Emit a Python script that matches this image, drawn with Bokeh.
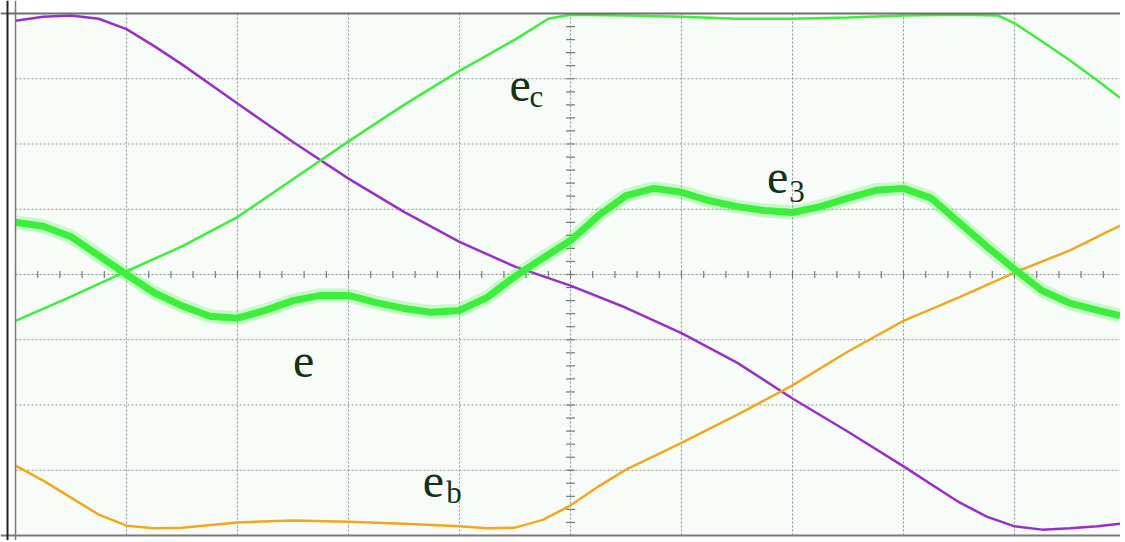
from bokeh.plotting import figure
from bokeh.models import Span, BoxAnnotation
from bokeh.core.properties import value
from bokeh.embed import file_html
from bokeh.resources import INLINE
import numpy as np

# ---- data (x in horizontal divisions, y in vertical divisions) ----
ea_x = [0, 0.25, 0.5, 0.75, 1.0, 1.25, 1.5, 2.0, 2.5, 3.0, 3.5, 4.0, 4.5, 5.0, 5.5,
        6.0, 6.5, 7.0, 7.5, 8.0, 8.5, 8.75, 9.0, 9.25, 9.5, 9.75, 9.95]
ea_y = [3.89, 3.95, 3.97, 3.92, 3.76, 3.50, 3.22, 2.62, 2.03, 1.47, 0.96, 0.50, 0.12,
        -0.17, -0.51, -0.90, -1.35, -1.90, -2.41, -2.94, -3.49, -3.71, -3.86, -3.91,
        -3.89, -3.86, -3.82]

ec_x = [0, 0.5, 1.0, 1.5, 2.0, 2.5, 3.0, 3.5, 4.0, 4.5, 4.8, 5.0, 5.5, 6.0, 6.5, 7.0,
        7.5, 8.0, 8.5, 8.85, 9.0, 9.25, 9.5, 9.75, 9.95]
ec_y = [-0.71, -0.34, 0.05, 0.43, 0.88, 1.46, 2.04, 2.60, 3.12, 3.60, 3.92, 3.98, 3.97,
        3.95, 3.92, 3.92, 3.94, 3.97, 3.98, 3.97, 3.85, 3.57, 3.28, 2.97, 2.71]

e3_x = [0, 0.25, 0.5, 0.75, 1.0, 1.25, 1.5, 1.75, 2.0, 2.25, 2.5, 2.75, 3.0, 3.25, 3.5,
        3.75, 4.0, 4.25, 4.5, 4.75, 5.0, 5.25, 5.5, 5.75, 6.0, 6.25, 6.5, 6.75, 7.0,
        7.25, 7.5, 7.75, 8.0, 8.25, 8.5, 8.75, 9.0, 9.25, 9.5, 9.75, 9.95]
e3_y = [0.80, 0.74, 0.58, 0.29, 0.00, -0.28, -0.48, -0.64, -0.67, -0.55, -0.40, -0.32,
        -0.32, -0.43, -0.52, -0.58, -0.55, -0.35, -0.03, 0.25, 0.52, 0.90, 1.21, 1.32,
        1.26, 1.13, 1.04, 0.98, 0.95, 1.04, 1.17, 1.29, 1.32, 1.17, 0.80, 0.43, 0.08,
        -0.25, -0.44, -0.55, -0.63]

eb_x = [0, 0.25, 0.5, 0.75, 1.0, 1.25, 1.5, 2.0, 2.5, 3.0, 3.5, 4.0, 4.25, 4.5, 4.75,
        5.0, 5.25, 5.5, 6.0, 6.5, 7.0, 7.5, 8.0, 8.5, 9.0, 9.5, 9.95]
eb_y = [-2.93, -3.16, -3.42, -3.68, -3.85, -3.89, -3.88, -3.80, -3.77, -3.79, -3.82,
        -3.86, -3.89, -3.88, -3.76, -3.54, -3.25, -2.99, -2.58, -2.15, -1.70, -1.18,
        -0.71, -0.35, 0.03, 0.37, 0.75]

# labels: main letter and subscript
lab_main = ["e", "e", "e", "e"]
lab_main_x = [4.45, 6.77, 2.50, 3.67]
lab_main_y = [2.91, 1.50, -1.32, -3.17]
lab_sub = ["c", "3", "b"]
lab_sub_x = [4.63, 6.97, 3.88]
lab_sub_y = [2.73, 1.27, -3.34]

# ---- figure (figure sits at page 0,0; screen data (0,4) at pixel (15,14)) ----
XL, XR = -15 / 111, 1105 / 111
YB, YT = -266 / 65.25, 274 / 65.25

p = figure(width=1120, height=540, x_range=(XL, XR), y_range=(YB, YT),
           output_backend="svg", toolbar_location=None,
           x_axis_type=None, y_axis_type=None, min_border=0)
p.grid.visible = False
p.outline_line_color = None
p.background_fill_color = "white"
p.border_fill_color = "white"

# screen area
p.add_layout(BoxAnnotation(left=0, right=XR, bottom=-4, top=4,
                           fill_color="#f8fcf8", fill_alpha=1, line_color=None, level="underlay"))

grid_col = "#8f8f8f"
gx = np.arange(1, 10)
p.segment(x0=gx, y0=-4, x1=gx, y1=4, line_color=grid_col, line_width=1, line_dash="2 2")
gy = np.arange(-3, 4)
p.segment(x0=0, y0=gy, x1=XR, y1=gy, line_color=grid_col, line_width=1, line_dash="2 2")

# center-axis minor ticks
tx = np.arange(0, 10.0, 0.2)
p.segment(x0=tx, y0=-0.055, x1=tx, y1=0.055, line_color="#777777", line_width=1.2)
ty = np.arange(-4, 4.01, 0.2)
p.segment(x0=5 - 0.04, y0=ty, x1=5 + 0.04, y1=ty, line_color="#777777", line_width=1.2)

# frame borders
p.add_layout(Span(location=4, dimension="width", line_color="#6e6e6e", line_width=2))
p.add_layout(Span(location=-4, dimension="width", line_color="#7a7a7a", line_width=2))
p.add_layout(Span(location=0, dimension="height", line_color="#7a7a7a", line_width=1.5))
p.add_layout(Span(location=-8 / 111, dimension="height", line_color="#222222", line_width=2))

# traces
p.line(ea_x, ea_y, line_color="#9a2ecb", line_width=2.5)
p.line(eb_x, eb_y, line_color="#f2a81e", line_width=2.5)
p.line(ec_x, ec_y, line_color="#3cef3c", line_width=2.5)
p.line(e3_x, e3_y, line_color="#3cef3c", line_width=14, line_alpha=0.25)
p.line(e3_x, e3_y, line_color="#3cef3c", line_width=7)

# labels
font = value("Liberation Serif")
p.text(x=lab_main_x, y=lab_main_y, text=lab_main, text_font=font, text_font_size="48px",
       text_color="#143214", text_align="left", text_baseline="alphabetic")
p.text(x=lab_sub_x, y=lab_sub_y, text=lab_sub, text_font=font, text_font_size="31px",
       text_color="#143214", text_align="left", text_baseline="alphabetic")

open("out.html", "w").write(file_html(p, INLINE))
